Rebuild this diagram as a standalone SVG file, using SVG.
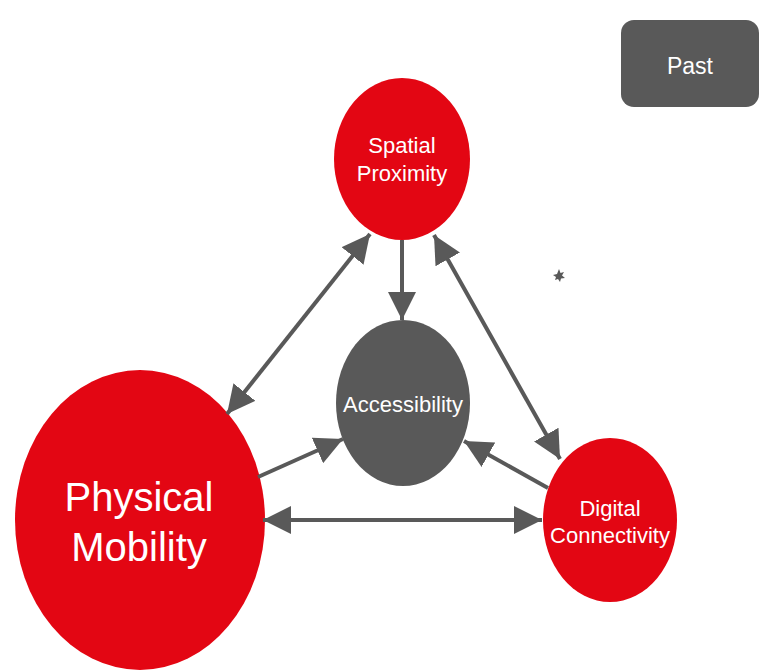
<svg xmlns="http://www.w3.org/2000/svg" width="761" height="670" viewBox="0 0 761 670">
<style>
.red{fill:#E30613}
.dark{fill:#595959}
.t{fill:#ffffff;font-family:"Liberation Sans",Arial,sans-serif;text-anchor:middle}
.ln{stroke:#595959;stroke-width:4;fill:none}
</style>
<defs>
<marker id="ah" markerUnits="userSpaceOnUse" markerWidth="28" markerHeight="28" viewBox="0 0 26 26" refX="26" refY="13" orient="auto-start-reverse">
<path d="M0,0 L26,13 L0,26 Z" fill="#595959"/>
</marker>
</defs>
<rect width="761" height="670" fill="#ffffff"/>
<g id="past">
<rect class="dark" x="621" y="20" width="138" height="87" rx="13"/>
<text class="t" x="690" y="74" font-size="23">Past</text>
</g>
<g id="spatial">
<ellipse class="red" cx="402" cy="159" rx="68" ry="81"/>
<text class="t" x="402" y="153" font-size="22">Spatial</text>
<text class="t" x="402" y="181" font-size="22">Proximity</text>
</g>
<g id="accessibility">
<ellipse class="dark" cx="403" cy="403" rx="67" ry="83"/>
<text class="t" x="403" y="412" font-size="22">Accessibility</text>
</g>
<g id="physical">
<ellipse class="red" cx="140" cy="520" rx="125" ry="150"/>
<text class="t" x="139" y="511" font-size="40">Physical</text>
<text class="t" x="139" y="561" font-size="40">Mobility</text>
</g>
<g id="digital">
<ellipse class="red" cx="610" cy="520" rx="67" ry="82"/>
<text class="t" x="610" y="516" font-size="22">Digital</text>
<text class="t" x="610" y="543" font-size="22">Connectivity</text>
</g>
<g id="connectors">
<line class="ln" x1="370" y1="234" x2="227" y2="414" marker-start="url(#ah)" marker-end="url(#ah)"/>
<line class="ln" x1="402" y1="240" x2="402" y2="320" marker-end="url(#ah)"/>
<line class="ln" x1="434" y1="235" x2="560" y2="459" marker-start="url(#ah)" marker-end="url(#ah)"/>
<line class="ln" x1="258" y1="477" x2="343" y2="439" marker-end="url(#ah)"/>
<line class="ln" x1="548" y1="488" x2="464" y2="441" marker-end="url(#ah)"/>
<line class="ln" x1="263" y1="520" x2="542" y2="520" marker-start="url(#ah)" marker-end="url(#ah)"/>
</g>
<polygon class="dark" points="559,269 560.5,273 564,272 562,275.5 565,278 561,278.5 560,282 558,279 555,280 556,277 553,275 557,274"/>
</svg>
